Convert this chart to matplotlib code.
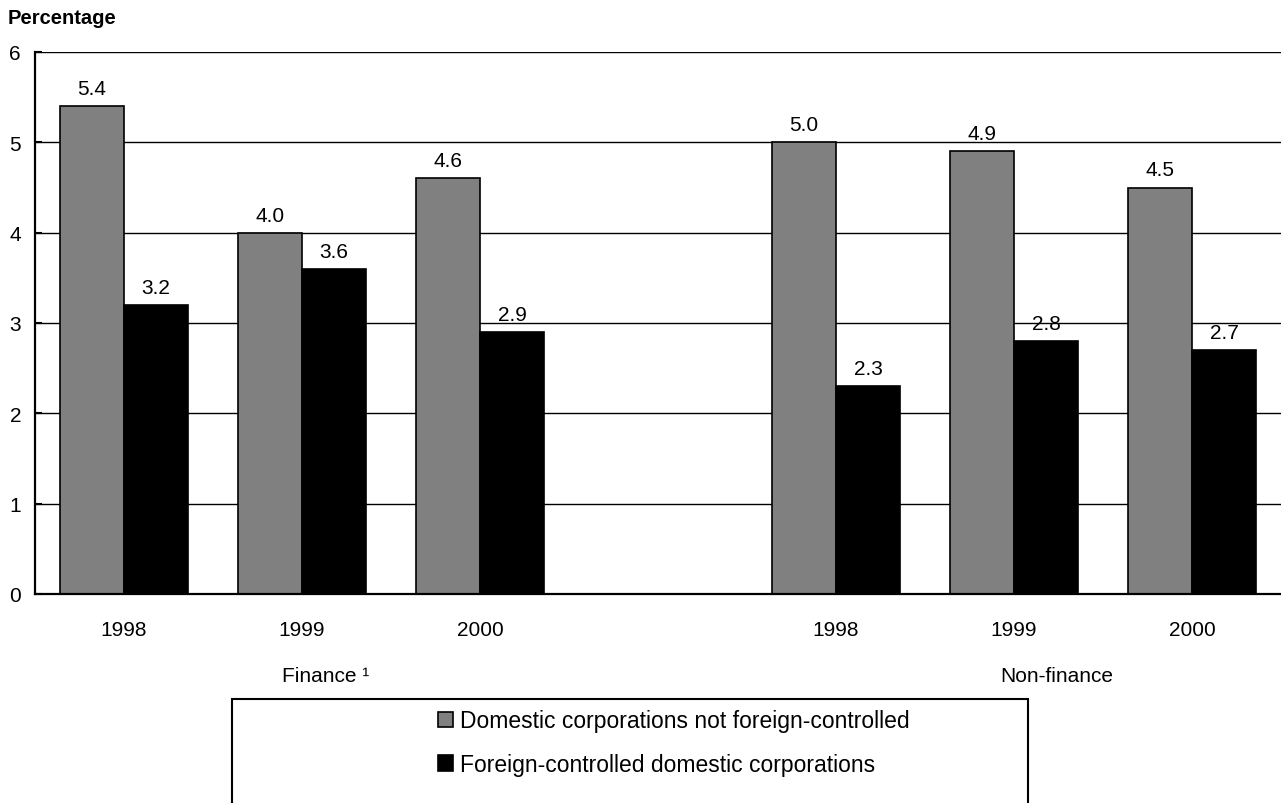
import numpy as np
import matplotlib.pyplot as plt
from matplotlib.patches import Rectangle

plt.rcParams['font.family'] = ['Liberation Sans', 'DejaVu Sans']

years = ['1998', '1999', '2000', '', '1998', '1999', '2000']
domestic = [5.4, 4.0, 4.6, np.nan, 5.0, 4.9, 4.5]
foreign = [3.2, 3.6, 2.9, np.nan, 2.3, 2.8, 2.7]
groups = ['Finance ¹', 'Non-finance']
series_names = ['Domestic corporations not foreign-controlled',
                'Foreign-controlled domestic corporations']

fig = plt.figure(figsize=(12.81, 8.04), dpi=100)
ax = fig.add_axes([35 / 1281, 1 - 595 / 804, 1246 / 1281, 542 / 804])

x = np.arange(len(years))
w = 0.36
b1 = ax.bar(x - w / 2, domestic, w, color='#808080', edgecolor='black', linewidth=1.2,
            label=series_names[0], zorder=3)
b2 = ax.bar(x + w / 2, foreign, w, color='black', edgecolor='black', linewidth=1.2,
            label=series_names[1], zorder=3)

for xi, v in zip(x, domestic):
    if not np.isnan(v):
        ax.text(xi - w / 2, v + 0.09, f'{v:.1f}', ha='center', va='bottom', fontsize=15, zorder=4)
for xi, v in zip(x, foreign):
    if not np.isnan(v):
        ax.text(xi + w / 2, v + 0.09, f'{v:.1f}', ha='center', va='bottom', fontsize=15, zorder=4)

ax.set_xlim(-0.5, 6.5)
ax.set_ylim(0, 6)
ax.set_yticks(range(7))
ax.tick_params(axis='y', labelsize=15, length=5, width=1.5, direction='in', pad=10)
ax.set_xticks(x)
ax.set_xticklabels(years, fontsize=15)
ax.tick_params(axis='x', length=0, pad=19)
ax.yaxis.grid(True, color='black', linewidth=1.0, zorder=0)
ax.set_axisbelow(True)
for s in ['top', 'right']:
    ax.spines[s].set_visible(False)
for s in ['left', 'bottom']:
    ax.spines[s].set_linewidth(1.6)
    ax.spines[s].set_zorder(5)

# group captions under the year labels
ax.text(1.135, -0.9, groups[0], ha='center', va='center', fontsize=15)
ax.text(5.24, -0.9, groups[1], ha='center', va='center', fontsize=15)

fig.text(8 / 1281, 1 - 19 / 804, 'Percentage', fontsize=14.5, fontweight='bold',
         ha='left', va='center')

# legend box runs off the bottom edge
fig.patches.append(Rectangle((232 / 1281, -0.05), 796 / 1281, 104 / 804 + 0.05,
                             transform=fig.transFigure, facecolor='white',
                             edgecolor='black', linewidth=1.5))
leg = fig.legend(handles=[b1, b2], loc='upper left',
                 bbox_to_anchor=(427 / 1281, 1 - 699 / 804), frameon=False,
                 fontsize=16.5, handlelength=0.65, handleheight=0.65,
                 handletextpad=0.28, labelspacing=0.9, borderpad=0)

fig.savefig('out.png', dpi=100)
